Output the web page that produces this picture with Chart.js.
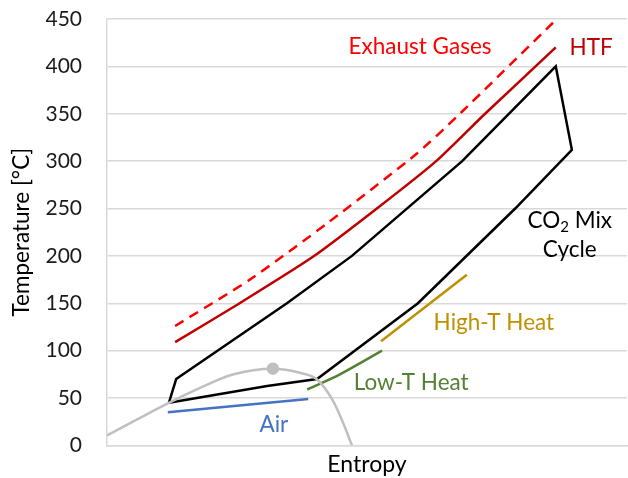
<!DOCTYPE html>
<html>
<head>
<meta charset="utf-8">
<script src="https://cdn.jsdelivr.net/npm/chart.js@4"></script>
<style>
  html, body { margin: 0; padding: 0; background: #fff; }
  #wrap { width: 628px; height: 478px; }
</style>
</head>
<body>
<div id="wrap"><canvas id="tsChart" width="628" height="478"></canvas></div>
<script>
// T-s diagram values (entropy in arbitrary units 0-100, temperature in °C)
const cycleS = [11.9, 13.3, 34.6, 47.1, 68.3, 86.3, 89.4, 78.5, 59.8, 40.4, 30.8, 11.9];
const cycleT = [45, 70, 150, 200, 300, 400, 312, 250, 150, 70, 62.6, 45];

const htfS = [13.1, 25.2, 39.6, 51.9, 63.3, 72.7, 86.3];
const htfT = [109, 149, 199, 250, 300, 350, 420];

const exhaustS = [13.1, 27.5, 42.5, 59.6, 67.3, 86.5];
const exhaustT = [126, 175, 235, 308, 347, 450];

const domeS = [0, 5.8, 11.7, 17.9, 24.2, 31.9, 37.1, 40.4, 43.5, 45.4, 47.1];
const domeT = [10.5, 27.4, 44.3, 60.7, 74.8, 81, 76.6, 69.5, 46.7, 23.9, 0];
const critS = [31.9];
const critT = [81];

const airS = [11.7, 38.7];
const airT = [35, 49];

const lowS = [38.5, 44.8, 52.9];
const lowT = [59, 75, 100];

const highS = [52.7, 69.2];
const highT = [110, 180];

const yTicks = [0, 50, 100, 150, 200, 250, 300, 350, 400, 450];

// text labels placed in data units
const labelText = ['Exhaust Gases', 'HTF', 'CO2 Mix', 'Cycle', 'High-T Heat', 'Low-T Heat', 'Air'];
const labelS = [60.2, 93.1, 89.0, 89.0, 74.4, 58.5, 32.1];
const labelT = [420.5, 419.4, 237, 206.6, 129.6, 66.4, 22.1];
const labelColor = ['#FF0000', '#C00000', '#000000', '#000000', '#BF9000', '#548235', '#4472C4'];

const FONT = 'Lato, "Open Sans", sans-serif';
const LBL = 22.5;

function pts(xs, ys) {
    return xs.map((x, i) => ({ x: x, y: ys[i] }));
}

// stretch plot area to 1px from the right edge (layout keeps a few px spare)
const areaPlugin = {
    id: 'fullWidth',
    afterLayout(chart) {
        const ca = chart.chartArea;
        const x = chart.scales.x;
        ca.right = chart.width - 1;
        ca.width = ca.right - ca.left;
        x.right = ca.right;
        x.width = x.right - x.left;
        x.configure();
    }
};

// draws the curve labels, CO2 with a subscript
const labelPlugin = {
    id: 'curveLabels',
    afterDatasetsDraw(chart) {
        const ctx = chart.ctx;
        const sx = chart.scales.x, sy = chart.scales.y;
        const big = LBL + 'px ' + FONT, small = '15px ' + FONT;
        ctx.save();
        ctx.textBaseline = 'middle';
        labelText.forEach((t, i) => {
            const px = sx.getPixelForValue(labelS[i]);
            const py = sy.getPixelForValue(labelT[i]);
            ctx.fillStyle = labelColor[i];
            if (t === 'CO2 Mix') {
                ctx.font = big;
                const w1 = ctx.measureText('CO').width;
                const w3 = ctx.measureText(' Mix').width;
                ctx.font = small;
                const w2 = ctx.measureText('2').width;
                let x0 = px - (w1 + w2 + w3) / 2;
                ctx.textAlign = 'left';
                ctx.font = big;
                ctx.fillText('CO', x0, py);
                ctx.font = small;
                ctx.fillText('2', x0 + w1, py + 6);
                ctx.font = big;
                ctx.fillText(' Mix', x0 + w1 + w2, py);
            } else {
                ctx.textAlign = 'center';
                ctx.font = big;
                ctx.fillText(t, px, py);
            }
        });
        ctx.restore();
    }
};

const lineDs = (data, color, extra) => Object.assign({
    data: data,
    borderColor: color,
    backgroundColor: color,
    borderWidth: 2.5,
    pointRadius: 0,
    tension: 0,
    fill: false
}, extra || {});

new Chart(document.querySelector('#tsChart'), {
    type: 'line',
    data: {
        datasets: [
            lineDs(pts(domeS, domeT), '#BFBFBF', { tension: 0.4, cubicInterpolationMode: 'monotone' }),
            lineDs(pts(critS, critT), '#BFBFBF', { pointRadius: 5, showLine: false }),
            lineDs(pts(airS, airT), '#4472C4'),
            lineDs(pts(lowS, lowT), '#548235', { tension: 0.3 }),
            lineDs(pts(highS, highT), '#BF9000'),
            lineDs(pts(exhaustS, exhaustT), '#FF0000', { borderDash: [10, 7], tension: 0.2 }),
            lineDs(pts(htfS, htfT), '#C00000', { tension: 0.2 }),
            lineDs(pts(cycleS, cycleT), '#000000')
        ]
    },
    options: {
        responsive: false,
        animation: false,
        layout: { padding: { top: 19, right: 1, bottom: 0, left: 0 } },
        plugins: {
            legend: { display: false },
            tooltip: { enabled: false }
        },
        scales: {
            x: {
                type: 'linear',
                min: 0,
                max: 100,
                ticks: { display: false },
                grid: { display: false, drawTicks: false },
                border: { display: true, color: '#D9D9D9', width: 1.5 },
                title: {
                    display: true,
                    text: 'Entropy',
                    color: '#000',
                    font: { family: FONT, size: 23 },
                    padding: { top: 5, bottom: 0 }
                }
            },
            y: {
                min: 0,
                max: 450,
                afterBuildTicks: (s) => { s.ticks = yTicks.map(v => ({ value: v })); },
                afterFit: (s) => {
                    s.width = 107;
                    s.paddingTop = 0;
                    s.paddingBottom = 0;
                },
                ticks: {
                    color: '#1a1a1a',
                    font: { family: FONT, size: 21 },
                    padding: 25
                },
                grid: { color: '#D9D9D9', lineWidth: 1.5, drawTicks: false },
                border: { display: true, color: '#D9D9D9', width: 1.5 },
                title: {
                    display: true,
                    text: 'Temperature [°C]',
                    color: '#000',
                    font: { family: FONT, size: 22.5 },
                    padding: { top: 8, bottom: 0 }
                }
            }
        }
    },
    plugins: [areaPlugin, labelPlugin]
});
</script>
</body>
</html>
